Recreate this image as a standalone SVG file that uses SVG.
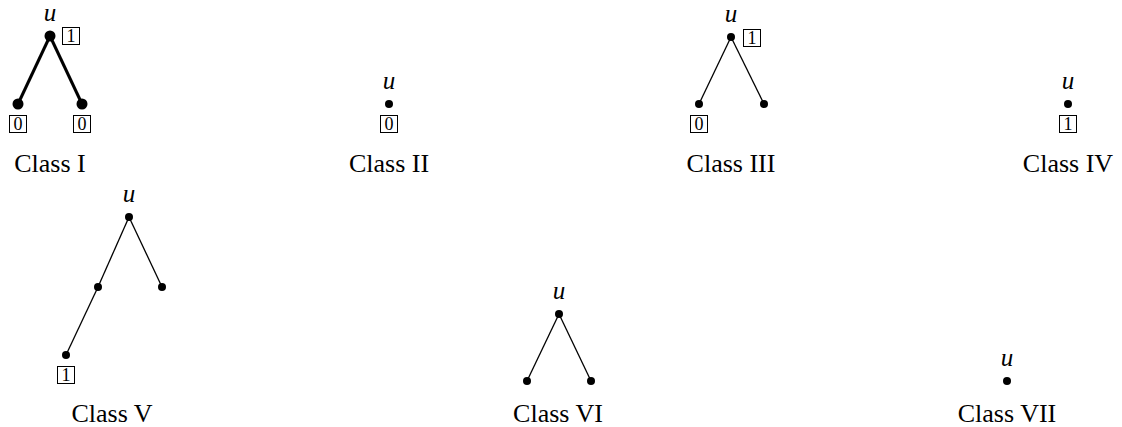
<svg xmlns="http://www.w3.org/2000/svg" width="1122" height="427" viewBox="0 0 1122 427">
<style>
.lbl{font-family:"Liberation Serif","DejaVu Serif",serif;font-size:26px;fill:#000;text-anchor:middle}
.u{font-family:"Liberation Serif","DejaVu Serif",serif;font-style:italic;font-size:25px;fill:#000;text-anchor:middle}
.num{font-family:"Liberation Serif","DejaVu Serif",serif;font-size:18px;fill:#000;text-anchor:middle}
.box{fill:#fff;stroke:#000;stroke-width:1}
.e{stroke:#000;stroke-width:1.3;fill:none}
.eb{stroke:#000;stroke-width:3;fill:none}
.d{fill:#000}
</style>
<rect width="1122" height="427" fill="#fff"/>
<g id="edges">
<line class="eb" x1="50" y1="36" x2="18" y2="104"/>
<line class="eb" x1="50" y1="36" x2="82" y2="104"/>
<line class="e" x1="731" y1="37" x2="699" y2="104"/>
<line class="e" x1="731" y1="37" x2="764" y2="104"/>
<line class="e" x1="129" y1="217" x2="98" y2="287"/>
<line class="e" x1="129" y1="217" x2="162" y2="287"/>
<line class="e" x1="98" y1="287" x2="66" y2="355"/>
<line class="e" x1="559" y1="314" x2="527" y2="381"/>
<line class="e" x1="559" y1="314" x2="591" y2="381"/>
</g>
<g id="class1">
<text class="u" x="50" y="21">u</text>
<circle class="d" cx="50" cy="36" r="5.5"/>
<circle class="d" cx="18" cy="104" r="5.5"/>
<circle class="d" cx="82" cy="104" r="5.5"/>
<rect class="box" x="62.5" y="27.5" width="17" height="17"/>
<text class="num" x="71" y="42">1</text>
<rect class="box" x="9.5" y="115.5" width="17" height="17"/>
<text class="num" x="18" y="130">0</text>
<rect class="box" x="73.5" y="115.5" width="17" height="17"/>
<text class="num" x="82" y="130">0</text>
<text class="lbl" x="50" y="172">Class I</text>
</g>
<g id="class2">
<text class="u" x="389" y="89">u</text>
<circle class="d" cx="389" cy="104" r="4"/>
<rect class="box" x="380.5" y="115.5" width="17" height="17"/>
<text class="num" x="389" y="130">0</text>
<text class="lbl" x="389" y="172">Class II</text>
</g>
<g id="class3">
<text class="u" x="731" y="22">u</text>
<circle class="d" cx="731" cy="37" r="4"/>
<circle class="d" cx="699" cy="104" r="4"/>
<circle class="d" cx="764" cy="104" r="4"/>
<rect class="box" x="743.5" y="29.5" width="17" height="17"/>
<text class="num" x="752" y="44">1</text>
<rect class="box" x="690.5" y="115.5" width="17" height="17"/>
<text class="num" x="699" y="130">0</text>
<text class="lbl" x="731" y="172">Class III</text>
</g>
<g id="class4">
<text class="u" x="1068" y="89">u</text>
<circle class="d" cx="1068" cy="104" r="4"/>
<rect class="box" x="1059.5" y="115.5" width="17" height="17"/>
<text class="num" x="1068" y="130">1</text>
<text class="lbl" x="1068" y="172">Class IV</text>
</g>
<g id="class5">
<text class="u" x="129" y="202">u</text>
<circle class="d" cx="129" cy="217" r="4"/>
<circle class="d" cx="98" cy="287" r="4"/>
<circle class="d" cx="162" cy="287" r="4"/>
<circle class="d" cx="66" cy="355" r="4"/>
<rect class="box" x="57.5" y="366.5" width="17" height="17"/>
<text class="num" x="66" y="381">1</text>
<text class="lbl" x="112" y="422">Class V</text>
</g>
<g id="class6">
<text class="u" x="559" y="299">u</text>
<circle class="d" cx="559" cy="314" r="4"/>
<circle class="d" cx="527" cy="381" r="4"/>
<circle class="d" cx="591" cy="381" r="4"/>
<text class="lbl" x="558" y="422">Class VI</text>
</g>
<g id="class7">
<text class="u" x="1007" y="366">u</text>
<circle class="d" cx="1007" cy="381" r="4"/>
<text class="lbl" x="1007" y="422">Class VII</text>
</g>
</svg>
